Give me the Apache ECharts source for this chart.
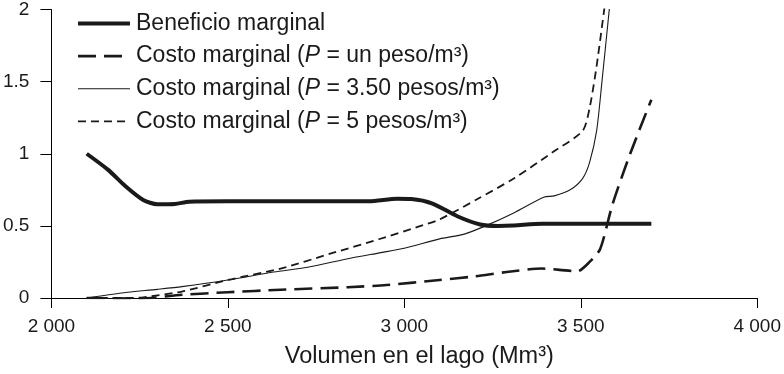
<!DOCTYPE html>
<html><head><meta charset="utf-8">
<script src="https://cdn.jsdelivr.net/npm/echarts@6/dist/echarts.min.js"></script>
<style>html,body{margin:0;padding:0;background:#fff}#c{width:784px;height:374px}</style>
</head><body><div id="c"></div>
<script>
const seriesNames = ['Beneficio marginal', 'Costo marginal (P = un peso/m³)', 'Costo marginal (P = 3.50 pesos/m³)', 'Costo marginal (P = 5 pesos/m³)'];
const xTicks = [2000, 2500, 3000, 3500, 4000];
const yTicks = [0, 0.5, 1, 1.5, 2];

const benX = [2100, 2160, 2210, 2260, 2300, 2350, 2390, 2500, 2700, 2900, 2980, 3020, 3080, 3150, 3215, 3265, 3310, 3390, 3700];
const benY = [1.0, 0.89, 0.775, 0.68, 0.65, 0.652, 0.668, 0.67, 0.67, 0.67, 0.688, 0.686, 0.655, 0.567, 0.51, 0.5, 0.503, 0.515, 0.515];

const p1X = [2100, 2250, 2370, 2500, 2650, 2840, 2950, 3100, 3200, 3290, 3390, 3440, 3490, 3525, 3555, 3590, 3640, 3700];
const p1Y = [0, -0.004, 0.022, 0.04, 0.057, 0.075, 0.09, 0.125, 0.15, 0.18, 0.204, 0.195, 0.185, 0.25, 0.34, 0.65, 1.0, 1.375];

const p35X = [2100, 2200, 2300, 2370, 2500, 2630, 2730, 2840, 2930, 3000, 3100, 3170, 3230, 3310, 3395, 3425, 3470, 3505, 3525, 3545, 3560, 3582];
const p35Y = [0, 0.035, 0.06, 0.079, 0.125, 0.18, 0.215, 0.272, 0.313, 0.345, 0.41, 0.443, 0.5, 0.59, 0.699, 0.708, 0.75, 0.828, 0.94, 1.16, 1.5, 2.03];

const p5X = [2100, 2200, 2260, 2370, 2500, 2650, 2790, 2930, 3040, 3100, 3210, 3310, 3420, 3505, 3525, 3545, 3568];
const p5Y = [0, 0.0, 0.005, 0.045, 0.125, 0.204, 0.307, 0.409, 0.495, 0.545, 0.69, 0.828, 1.01, 1.158, 1.317, 1.61, 2.03];

const FONT = "'Liberation Sans', Arial, Helvetica, sans-serif";
const INK = '#1a1a1a';
const pairs = (xs, ys) => xs.map((x, i) => [x, ys[i]]);
const widths = [4, 2.6, 1.1, 1.8];
const dashes = ['solid', [18, 8], 'solid', [8, 5]];

function mk(i, xs, ys) {
  return {
    name: seriesNames[i], type: 'line', data: pairs(xs, ys), showSymbol: false, symbol: 'none',
    smooth: 0.25, clip: true,
    lineStyle: { color: INK, width: widths[i], type: dashes[i], cap: 'butt', join: 'round' },
    itemStyle: { color: 'rgba(0,0,0,0)' }
  };
}

const chart = echarts.init(document.getElementById('c'), null, { renderer: 'canvas' });
chart.setOption({
  animation: false,
  backgroundColor: '#fff',
  grid: { left: 49, right: 26, top: 9.5, bottom: 71, containLabel: false },
  legend: {
    orient: 'vertical', left: 71, top: 7, itemWidth: 52, itemHeight: 14, itemGap: 9.6,
    data: seriesNames.map((n, i) => ({ name: n, lineStyle: { width: widths[i], type: dashes[i], color: INK } })),
    itemStyle: { color: 'rgba(0,0,0,0)', borderWidth: 0, opacity: 0 },
    formatter: n => n.replace('(P', '({i|P}'),
    textStyle: {
      fontFamily: FONT, fontSize: 23, color: INK, lineHeight: 22, padding: [0, 0, 0, 1],
      rich: { i: { fontFamily: FONT, fontSize: 23, fontStyle: 'italic', color: INK, lineHeight: 22 } }
    }
  },
  xAxis: {
    type: 'value', min: 2000, max: 4000, interval: 500,
    name: 'Volumen en el lago (Mm³)', nameLocation: 'middle', nameGap: 47,
    nameTextStyle: { fontFamily: FONT, fontSize: 23.5, color: INK, padding: [0, 0, 0, 30] },
    axisLine: { show: true, lineStyle: { color: '#000', width: 1 } },
    axisTick: { show: true, length: 10, lineStyle: { color: '#000' } },
    splitLine: { show: false },
    axisLabel: {
      fontFamily: FONT, fontSize: 19, color: INK, margin: 19,
      formatter: v => xTicks.includes(v) ? String(v).replace(/(\d)(?=(\d{3})+$)/, '$1 ') : ''
    }
  },
  yAxis: {
    type: 'value', min: 0, max: 2, interval: 0.5,
    axisLine: { show: true, lineStyle: { color: '#000', width: 1 } },
    axisTick: { show: true, length: 11, lineStyle: { color: '#000' } },
    splitLine: { show: false },
    axisLabel: {
      fontFamily: FONT, fontSize: 19, color: INK, margin: 22,
      formatter: v => yTicks.includes(v) ? String(v) : ''
    }
  },
  series: [
    mk(0, benX, benY),
    mk(1, p1X, p1Y),
    mk(2, p35X, p35Y),
    mk(3, p5X, p5Y)
  ]
});
</script></body></html>
